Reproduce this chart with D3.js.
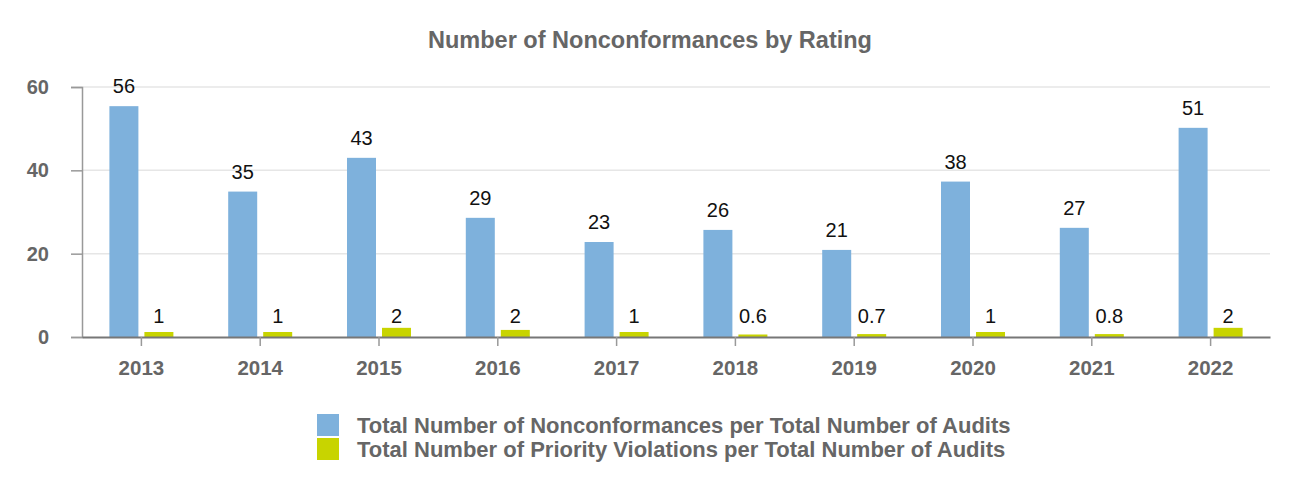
<!DOCTYPE html>
<html>
<head>
<meta charset="utf-8">
<script src="https://cdn.jsdelivr.net/npm/d3@7"></script>
<style>
  body { margin: 0; background: #fff; }
  text { font-family: "Liberation Sans", Arial, sans-serif; }
</style>
</head>
<body>
<svg id="chart" width="1300" height="500"></svg>
<script>
var years = ["2013", "2014", "2015", "2016", "2017", "2018", "2019", "2020", "2021", "2022"];
var nonconformances = [55.4, 34.9, 43.0, 28.6, 22.8, 25.7, 20.9, 37.3, 26.2, 50.2];
var nonconformanceLabels = ["56", "35", "43", "29", "23", "26", "21", "38", "27", "51"];
var priorityViolations = [1.2, 1.2, 2.2, 1.7, 1.2, 0.6, 0.7, 1.2, 0.7, 2.2];
var priorityLabels = ["1", "1", "2", "2", "1", "0.6", "0.7", "1", "0.8", "2"];
var yTicks = [0, 20, 40, 60];
var seriesNames = ["Total Number of Nonconformances per Total Number of Audits",
                   "Total Number of Priority Violations per Total Number of Audits"];
var colors = ["#7eb1dc", "#c8d400"];

var svg = d3.select("#chart");
var plotLeft = 82, plotRight = 1270, plotTop = 87, plotBottom = 337;

var x = d3.scaleBand().domain(years).range([plotLeft, plotRight]);
var y = d3.scaleLinear().domain([0, 60]).range([plotBottom, plotTop]);
var barW = 29, gap = 3;

svg.append("text")
    .attr("x", 650).attr("y", 48)
    .attr("text-anchor", "middle")
    .style("font-size", "23.5px").style("font-weight", "bold").style("fill", "#666")
    .text("Number of Nonconformances by Rating");

// gridlines
svg.append("g").selectAll("line")
    .data(yTicks.slice(1))
    .enter().append("line")
    .attr("x1", plotLeft).attr("x2", plotRight)
    .attr("y1", function(d) { return y(d); }).attr("y2", function(d) { return y(d); })
    .style("stroke", "#e6e6e6").style("stroke-width", 1.5);

// y axis
var yAxis = svg.append("g")
    .attr("transform", "translate(" + plotLeft + ",0)")
    .call(d3.axisLeft(y).tickValues(yTicks).tickSize(11).tickPadding(22));
yAxis.select(".domain").style("stroke", "#999").style("stroke-width", 1.5);
yAxis.selectAll(".tick line").style("stroke", "#999").style("stroke-width", 1.5);
yAxis.selectAll("text")
    .style("font-size", "20px").style("font-weight", "bold").style("fill", "#666")
    .style("font-family", "Liberation Sans, Arial, sans-serif");

var rows = years.map(function(yr, i) {
    return {year: yr, a: nonconformances[i], b: priorityViolations[i],
            la: nonconformanceLabels[i], lb: priorityLabels[i]};
});

var groups = svg.append("g").selectAll("g")
    .data(rows)
    .enter().append("g")
    .attr("transform", function(d) { return "translate(" + (x(d.year) + x.bandwidth() / 2) + ",0)"; });

groups.append("rect")
    .attr("x", -gap - barW).attr("width", barW)
    .attr("y", function(d) { return y(d.a); })
    .attr("height", function(d) { return plotBottom - y(d.a); })
    .style("fill", colors[0]);

groups.append("rect")
    .attr("x", gap).attr("width", barW)
    .attr("y", function(d) { return y(d.b); })
    .attr("height", function(d) { return plotBottom - y(d.b); })
    .style("fill", colors[1]);

groups.append("text")
    .attr("x", -gap - barW / 2)
    .attr("y", function(d) { return y(d.a) - 13; })
    .attr("text-anchor", "middle")
    .style("font-size", "20px").style("fill", "#111")
    .text(function(d) { return d.la; });

groups.append("text")
    .attr("x", gap + barW / 2)
    .attr("y", function(d) { return Math.min(y(d.b) - 4, plotBottom - 14); })
    .attr("text-anchor", "middle")
    .style("font-size", "20px").style("fill", "#111")
    .text(function(d) { return d.lb; });

// x axis
var xAxis = svg.append("g")
    .attr("transform", "translate(0," + plotBottom + ")")
    .call(d3.axisBottom(x).tickSize(9).tickSizeOuter(0).tickPadding(14));
xAxis.select(".domain").style("stroke", "#777").style("stroke-width", 2);
xAxis.selectAll(".tick line").style("stroke", "#999").style("stroke-width", 1.5);
xAxis.selectAll("text")
    .style("font-size", "20.5px").style("font-weight", "bold").style("fill", "#666")
    .style("font-family", "Liberation Sans, Arial, sans-serif");

// legend
var legend = svg.append("g").selectAll("g")
    .data(seriesNames)
    .enter().append("g")
    .attr("transform", function(d, i) { return "translate(317," + (414 + i * 24) + ")"; });
legend.append("rect")
    .attr("width", 22).attr("height", 22)
    .style("fill", function(d, i) { return colors[i]; });
legend.append("text")
    .attr("x", 40).attr("y", 11).attr("dy", "0.35em")
    .style("font-size", "22px").style("font-weight", "bold").style("fill", "#666")
    .text(function(d) { return d; });
</script>
</body>
</html>
